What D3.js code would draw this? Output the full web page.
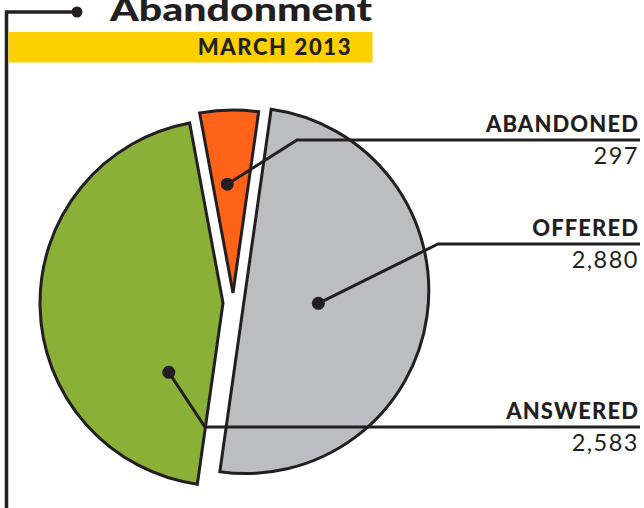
<!DOCTYPE html>
<html>
<head>
<meta charset="utf-8">
<script src="https://cdn.jsdelivr.net/npm/d3@7"></script>
<style>
  body { margin: 0; background: #fff; }
  svg { display: block; }
  text { font-family: Lato, "Open Sans", sans-serif; fill: #231f20; }
</style>
</head>
<body>
<script>
// chart values
const categories = ["ABANDONED", "OFFERED", "ANSWERED"];
const values = [297, 2880, 2583];
const colors = ["#ff6319", "#bcbdc0", "#8bb037"];
const title = "Abandonment";
const subtitle = "MARCH 2013";

const width = 644;
const height = 508;
const ink = "#231f20";

const svg = d3.select("body").append("svg")
  .attr("width", width)
  .attr("height", height);

// pie layout, rotated so the small slice sits at the top
const startDeg = -10.5;
const pie = d3.pie()
  .sort(null)
  .value(d => d)
  .startAngle(startDeg * Math.PI / 180)
  .endAngle(startDeg * Math.PI / 180 + 2 * Math.PI);

const radius = 183;
const arc = d3.arc().innerRadius(0).outerRadius(radius);
const base = { x: 233, y: 300 };

// how far each piece was pulled out of the pie
const shift = [[0, -7], [12.5, -9.5], [-10, 3]];
// where each leader starts (angle in degrees, distance from the slice tip)
const anchor = [[-3, 109], [100, 74], [218, 88]];
// leader row and elbow for each label
const rowY = [140, 244, 427];
const elbowX = [297, 438, 205];

const fmt = d3.format(",");
const arcs = pie(values);

// bracket on the left
svg.append("path")
  .attr("d", `M6.5,${height + 5}V12H77`)
  .attr("fill", "none")
  .attr("stroke", ink)
  .attr("stroke-width", 3.5);
svg.append("circle")
  .attr("cx", 77).attr("cy", 12).attr("r", 5.5)
  .attr("fill", ink);

// title (its top runs off the page, as in the original)
svg.append("text")
  .attr("x", 110).attr("y", 21)
  .attr("textLength", 262)
  .attr("lengthAdjust", "spacingAndGlyphs")
  .style("font-size", "33px")
  .style("font-weight", 900)
  .text(title);

svg.append("rect")
  .attr("x", 8.5).attr("y", 32)
  .attr("width", 364).attr("height", 30.5)
  .attr("fill", "#fdd000");

svg.append("text")
  .attr("x", 352).attr("y", 55)
  .attr("text-anchor", "end")
  .style("font-size", "22px")
  .style("font-weight", 900)
  .style("letter-spacing", "1.6px")
  .text(subtitle);

// slices
const slices = svg.append("g");
slices.selectAll("path")
  .data(arcs)
  .enter()
  .append("path")
  .attr("transform", (d, i) => `translate(${base.x + shift[i][0]},${base.y + shift[i][1]})`)
  .attr("d", arc)
  .attr("fill", (d, i) => colors[i])
  .attr("stroke", ink)
  .attr("stroke-width", 3)
  .attr("stroke-linejoin", "miter");

// leaders
const leaders = svg.append("g");
arcs.forEach((d, i) => {
  const a = anchor[i][0] * Math.PI / 180;
  const cx = base.x + shift[i][0] + anchor[i][1] * Math.sin(a);
  const cy = base.y + shift[i][1] - anchor[i][1] * Math.cos(a);
  leaders.append("path")
    .attr("d", `M${cx},${cy}L${elbowX[i]},${rowY[i]}H${width - 4}`)
    .attr("fill", "none")
    .attr("stroke", ink)
    .attr("stroke-width", 3);
  leaders.append("circle")
    .attr("cx", cx).attr("cy", cy).attr("r", 6.5)
    .attr("fill", ink);

  leaders.append("text")
    .attr("x", 639).attr("y", rowY[i] - 8)
    .attr("text-anchor", "end")
    .style("font-size", "22px")
    .style("font-weight", 900)
    .style("letter-spacing", "1.1px")
    .text(categories[i]);
  leaders.append("text")
    .attr("x", 639).attr("y", rowY[i] + 24)
    .attr("text-anchor", "end")
    .style("font-size", "23.5px")
    .style("font-weight", 400)
    .style("letter-spacing", "1.5px")
    .text(fmt(d.data));
});
</script>
</body>
</html>
